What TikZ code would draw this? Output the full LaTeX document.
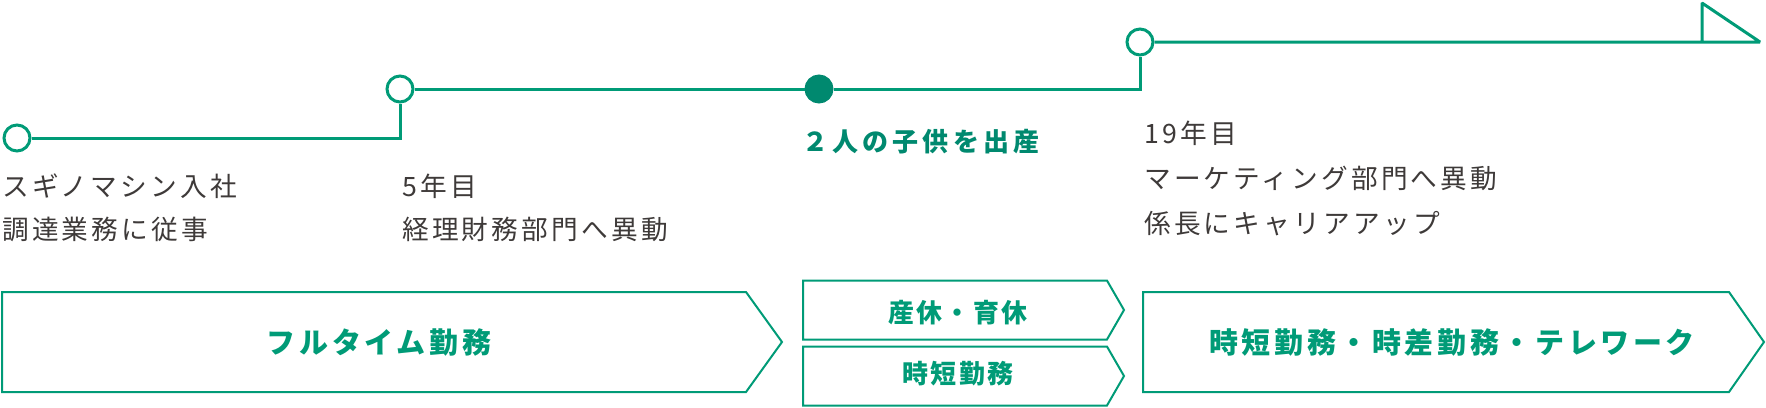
\documentclass[tikz,border=0pt]{standalone}
\usepackage{fontspec}
\usetikzlibrary{positioning,shapes.symbols}
\newfontfamily\jp{Noto Sans CJK JP}
\definecolor{lineGreen}{HTML}{009B77}
\definecolor{dotGreen}{HTML}{00896F}
\definecolor{textGray}{HTML}{3E3A39}
\tikzset{
  event/.style={circle,draw=lineGreen,line width=2.25pt,fill=white,minimum size=19.5pt,inner sep=0},
  timeline/.style={draw=lineGreen,line width=2.25pt},
  note/.style={anchor=west,inner sep=0,align=left,text=textGray,
    font=\jp\addfontfeature{LetterSpace=12}\fontsize{20pt}{32.25pt}\selectfont},
  milestone/.style={anchor=west,inner sep=0,text=dotGreen,
    font=\jp\bfseries\addfontfeature{LetterSpace=16}\fontsize{19.5pt}{22pt}\selectfont},
  phase/.style={signal,signal to=east,signal from=nowhere,draw=lineGreen,line width=1.5pt,
    inner sep=0,anchor=west},
  phasetext/.style={inner sep=0,text=lineGreen,
    font=\jp\bfseries\addfontfeature{LetterSpace=12.5}\fontsize{21.75pt}{24pt}\selectfont},
  subphasetext/.style={phasetext,
    font=\jp\bfseries\addfontfeature{LetterSpace=9}\fontsize{19.5pt}{22pt}\selectfont},
}
\begin{document}
\begin{tikzpicture}[x=0.75pt,y=-0.75pt]
\useasboundingbox (0,0) rectangle (1766,407);
% timeline
\node[event] (start) at (17,138) {};
\node[event] (transfer) at (400,89) {};
\node[event,fill=dotGreen,draw=dotGreen] (birth) at (819,89) {};
\node[event] (promo) at (1140,42) {};
\coordinate (goal) at (1760,42);
\coordinate (flagfoot) at (1702,42);
\coordinate (flagtop) at (1702,3);
\draw[timeline] (start.east) -- (start.east -| transfer.south) -- (transfer.south);
\draw[timeline] (transfer.east) -- (birth.west);
\draw[timeline] (birth.east) -- (birth.east -| promo.south) -- (promo.south);
\draw[timeline,line join=bevel] (promo.east) -- (goal) -- (flagtop) -- (flagfoot);
% texts
\node[note] (join) at (2,207.5) {スギノマシン入社\\調達業務に従事};
\node[note] (year5) at (402,207.5) {5年目\\経理財務部門へ異動};
\node[milestone] (kids) at (802,142) {２人の子供を出産};
\node[note] (year19) at (1144,178.5) {19年目\\[1.5pt]マーケティング部門へ異動\\[1.5pt]係長にキャリアアップ};
% phases
\node[phase,minimum width=585pt,minimum height=75pt,signal pointer angle=108.5] (fulltime) at (1,342) {};
\node[phase,minimum width=240.75pt,minimum height=44.25pt,signal pointer angle=120] (leave) at (802,310) {};
\node[phase,minimum width=240.75pt,minimum height=44.25pt,signal pointer angle=120] (short) at (802,376) {};
\node[phase,minimum width=465.75pt,minimum height=75pt,signal pointer angle=110] (flex) at (1142,342) {};
\node[phasetext] at (379,342) {フルタイム勤務};
\node[subphasetext] at (958,313) {産休・育休};
\node[subphasetext] at (958,374) {時短勤務};
\node[phasetext] at (1452,342) {時短勤務・時差勤務・テレワーク};
\end{tikzpicture}
\end{document}
